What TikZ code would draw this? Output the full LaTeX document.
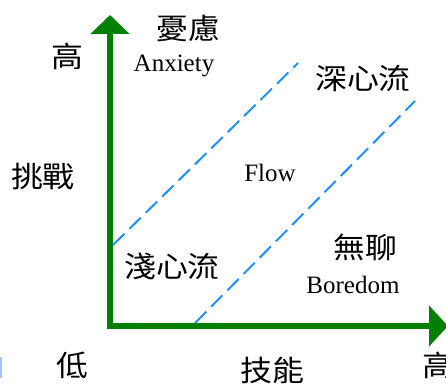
\documentclass[tikz,border=0pt]{standalone}
\usepackage{fontspec}
\setmainfont{Liberation Serif}
\newfontfamily\cjk{Noto Sans CJK TC}
\usetikzlibrary{arrows.meta}
\definecolor{axisgreen}{RGB}{0,128,0}
\definecolor{dashblue}{RGB}{30,144,255}
\definecolor{faintblue}{RGB}{170,195,240}
\newcommand{\cjkw}[1]{\scalebox{1.1}[1]{#1}}
\tikzset{
  axisline/.style={draw=axisgreen, line width=6pt, line join=miter,
    {Triangle[length=19pt,width=38pt]}-{Triangle[length=19pt,width=40pt]}},
  zoneline/.style={draw=dashblue, line width=2pt, dash pattern=on 16pt off 7pt},
  cjklbl/.style={font=\cjk\fontsize{29}{29}\selectfont, inner sep=0pt, anchor=center},
  latlbl/.style={font=\fontsize{25}{25}\selectfont, inner sep=0pt, anchor=base},
}
\begin{document}
\begin{tikzpicture}[x=1pt,y=1pt]
\useasboundingbox (0,0) rectangle (446,385);
% axes
\coordinate (ytip) at (110,370);
\coordinate (orig) at (110,59);
\coordinate (xtip) at (448,59);
\draw[axisline] (ytip) -- (orig) -- (xtip);
% zone boundaries
\coordinate (a1) at (113,140);
\coordinate (a2) at (298,322);
\coordinate (b1) at (195,62);
\coordinate (b2) at (415,284);
\draw[zoneline] (a1) -- (a2);
\draw[zoneline] (b1) -- (b2);
% faint mark at left edge
\fill[faintblue] (0,7) rectangle (2,28);
% labels
\node[cjklbl] (hiY) at (67,329) {\cjkw{高}};
\node[cjklbl] (anxzh) at (188,356) {\cjkw{憂慮}};
\node[latlbl] (anxen) at (174,313) {Anxiety};
\node[cjklbl] (chal) at (43,208) {\cjkw{挑戰}};
\node[cjklbl] (deep) at (363,307) {\cjkw{深心流}};
\node[latlbl] (flow) at (270,203) {Flow};
\node[cjklbl] (shallow) at (172,118) {\cjkw{淺心流}};
\node[cjklbl] (borzh) at (365,138) {\cjkw{無聊}};
\node[latlbl] (boren) at (353,91) {Boredom};
\node[cjklbl] (low) at (72,20) {\cjkw{低}};
\node[cjklbl] (skill) at (272,15) {\cjkw{技能}};
\node[cjklbl] (hiX) at (438,20) {\cjkw{高}};
\end{tikzpicture}
\end{document}
